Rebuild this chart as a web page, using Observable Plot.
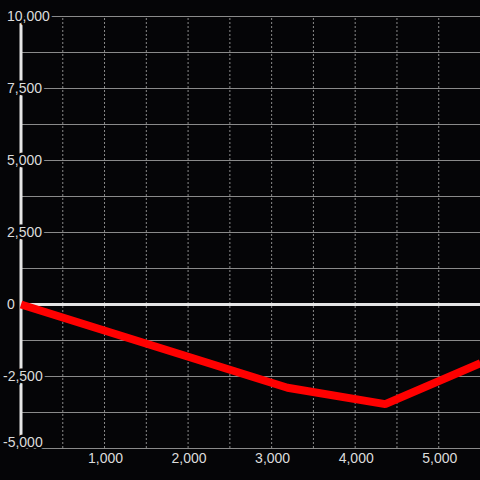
<!DOCTYPE html>
<html>
<head>
<meta charset="utf-8">
<script src="https://cdn.jsdelivr.net/npm/d3@7"></script>
<script src="https://cdn.jsdelivr.net/npm/@observablehq/plot@0.6"></script>
<style>
  html, body { margin: 0; padding: 0; background: #050507; }
</style>
</head>
<body>
<div id="chart"></div>
<script>
// Data
const xs = [0, 3190, 4360, 5500];
const ys = [0, -2890, -3460, -2040];

const yLabelTicksPos = [0, 2500, 5000, 7500, 10000];
const yLabelTicksNeg = [-2500];
const yLabelTicksBottom = [-5000];
const yGridTicks = [-5000, -3750, -2500, -1250, 1250, 2500, 3750, 5000, 6250, 7500, 8750, 10000];
const xGridTicks = [500, 1000, 1500, 2000, 2500, 3000, 3500, 4000, 4500, 5000];
const xLabelTicks = [1000, 2000, 3000, 4000, 5000];

const data = xs.map((x, i) => ({x, y: ys[i]}));

const bg = "#050507";
const gridColor = "#8a8a8a";
const axisColor = "#e6e6e6";
const textColor = "#dcdcdc";
const fmt = d => d.toLocaleString("en-US");

const chart = Plot.plot({
  width: 480,
  height: 480,
  marginLeft: 20.5,
  marginRight: 0,
  marginTop: 16,
  marginBottom: 32,
  style: {background: bg, color: textColor, fontFamily: "'Liberation Sans', Arial, sans-serif", fontSize: "14px"},
  x: {domain: [0, 5500], axis: null},
  y: {domain: [-5000, 10000], axis: null},
  marks: [
    Plot.ruleX(xGridTicks, {y1: -5000, y2: 10000, stroke: gridColor, strokeWidth: 1, strokeDasharray: "2,2"}),
    Plot.ruleY(yGridTicks, {stroke: gridColor, strokeWidth: 1}),
    Plot.ruleY([0], {stroke: axisColor, strokeWidth: 3}),
    Plot.ruleX([0], {y1: -5000, y2: 10000, stroke: axisColor, strokeWidth: 3}),
    Plot.line(data, {x: "x", y: "y", stroke: "#ff0000", strokeWidth: 8, strokeLinecap: "butt", strokeLinejoin: "miter"}),
    Plot.axisY(yLabelTicksPos, {anchor: "left", label: null, tickSize: 0, tickPadding: 0, textAnchor: "start", dx: -14, tickFormat: fmt, fill: textColor, textStroke: bg, textStrokeWidth: 5}),
    Plot.axisY(yLabelTicksNeg, {anchor: "left", label: null, tickSize: 0, tickPadding: 0, textAnchor: "start", dx: -18, tickFormat: fmt, fill: textColor, textStroke: bg, textStrokeWidth: 5}),
    Plot.axisY(yLabelTicksBottom, {anchor: "left", label: null, tickSize: 0, tickPadding: 0, textAnchor: "start", dx: -18, dy: -6, tickFormat: fmt, fill: textColor, textStroke: bg, textStrokeWidth: 5}),
    Plot.axisX(xLabelTicks, {anchor: "bottom", label: null, tickSize: 0, tickPadding: 5, dx: 1, tickFormat: fmt, fill: textColor})
  ]
});
document.getElementById("chart").appendChild(chart);
</script>
</body>
</html>
